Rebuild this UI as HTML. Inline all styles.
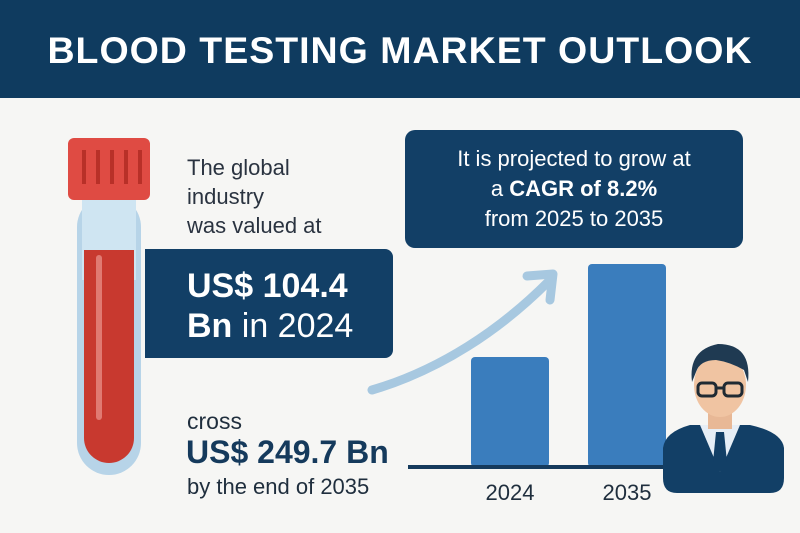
<!DOCTYPE html>
<html><head><meta charset="utf-8"><style>
body{margin:0;width:800px;height:533px;overflow:hidden;background:#f6f6f4;font-family:"Liberation Sans",sans-serif;position:relative}
.a{position:absolute}
</style></head><body>
<div class="a" style="left:0;top:0;width:800px;height:98px;background:#0f3b5f"></div>
<div class="a" style="left:0;top:29px;width:800px;text-align:center;color:#fff;font-weight:bold;font-size:37.5px;letter-spacing:1px">BLOOD TESTING MARKET OUTLOOK</div>

<svg class="a" style="left:0;top:0" width="800" height="533">
 <g>
  <rect x="77" y="195" width="64" height="280" rx="32" fill="#b7d4e8"/>
  <rect x="82" y="160" width="54" height="120" fill="#cfe5f2"/>
  <path d="M84 250 H134 V438 A25 25 0 0 1 84 438 Z" fill="#c8392f"/>
  <rect x="96" y="255" width="6" height="165" rx="3" fill="#e07a72"/>
  <rect x="68" y="138" width="82" height="62" rx="6" fill="#df4b43"/>
  <g fill="#b83028"><rect x="82" y="150" width="4" height="34"/><rect x="96" y="150" width="4" height="34"/><rect x="110" y="150" width="4" height="34"/><rect x="124" y="150" width="4" height="34"/><rect x="138" y="150" width="4" height="34"/></g>
 </g>
 <path d="M372 390 C440 370 500 330 548 282" stroke="#a7c8e0" stroke-width="9" fill="none" stroke-linecap="round"/>
 <path d="M527 276 L553 274 L550 300" stroke="#a7c8e0" stroke-width="9" fill="none" stroke-linecap="round" stroke-linejoin="round"/>
 <g id="chart"></g>
 <g>
  <path d="M663 478 V448 Q665 432 690 425 L750 425 Q782 432 784 448 V478 Q784 493 770 493 H677 Q663 493 663 478Z" fill="#123f66"/>
  <path d="M700 425 L720 472 L740 425Z" fill="#e6eef6"/>
  <path d="M716 432 L724 432 L727 462 L720 472 L713 462Z" fill="#123f66"/>
  <rect x="708" y="405" width="24" height="24" fill="#e8b896"/>
  <ellipse cx="720" cy="385" rx="26" ry="32" fill="#f0c4a2"/>
  <path d="M692 382 Q688 350 718 344 Q752 344 748 382 L744 370 Q730 362 716 360 Q700 360 696 372Z" fill="#1f3a52"/>
  <rect x="698" y="383" width="18" height="13" rx="4" fill="none" stroke="#1f2a33" stroke-width="3"/>
  <rect x="724" y="383" width="18" height="13" rx="4" fill="none" stroke="#1f2a33" stroke-width="3"/>
  <line x1="716" y1="388" x2="724" y2="388" stroke="#1f2a33" stroke-width="3"/>
 </g>
</svg>

<div class="a" style="left:187px;top:153px;font-size:22px;line-height:29px;color:#2a3340">The global<br>industry<br>was valued at</div>
<div class="a" style="left:145px;top:249px;width:248px;height:109px;background:#123f66;border-radius:0 8px 8px 0"></div>
<div class="a" style="left:187px;top:266px;color:#fff;font-size:34px;line-height:40px"><b>US$ 104.4<br>Bn</b> in 2024</div>
<div class="a" style="left:187px;top:408px;font-size:23px;color:#1f2e3d">cross</div>
<div class="a" style="left:186px;top:434px;font-size:32px;font-weight:bold;color:#153a5c">US$ 249.7 Bn</div>
<div class="a" style="left:187px;top:474px;font-size:22px;color:#1f2e3d">by the end of 2035</div>
<div class="a" style="left:405px;top:130px;width:338px;height:118px;background:#123f66;border-radius:10px;color:#fff;text-align:center;font-size:22px;line-height:30px;padding-top:14px;box-sizing:border-box">It is projected to grow at<br>a <b>CAGR of 8.2%</b><br>from 2025 to 2035</div>

<script>
const categories = ["2024", "2035"];
const values = [104.4, 249.7];
const tickLabels = ["2024", "2035"];
const NS = "http://www.w3.org/2000/svg";
const g = document.getElementById("chart");
const baseY = 467, x0 = 471, step = 117, bw = 78;
function yScale(v){ return baseY - (v + 67.5) / (249.7 + 67.5) * 203; }
function xScale(i){ return x0 + i * step; }
values.forEach((v, i) => {
  const r = document.createElementNS(NS, "rect");
  r.setAttribute("x", xScale(i));
  r.setAttribute("y", yScale(v));
  r.setAttribute("width", bw);
  r.setAttribute("height", baseY - yScale(v));
  r.setAttribute("rx", 4);
  r.setAttribute("fill", "#3a7dbd");
  
  
  g.appendChild(r);
  const t = document.createElementNS(NS, "text");
  t.setAttribute("x", xScale(i) + bw / 2);
  t.setAttribute("y", 500);
  t.setAttribute("text-anchor", "middle");
  t.setAttribute("font-size", "22");
  t.setAttribute("fill", "#1f2e3d");
  t.setAttribute("font-family", "Liberation Sans, sans-serif");
  t.textContent = tickLabels[i];
  
  
  g.appendChild(t);
});
const ax = document.createElementNS(NS, "line");
ax.setAttribute("x1", 408); ax.setAttribute("x2", 668);
ax.setAttribute("y1", baseY); ax.setAttribute("y2", baseY);
ax.setAttribute("stroke", "#153a5c"); ax.setAttribute("stroke-width", 4);


g.appendChild(ax);
</script>
</body></html>
